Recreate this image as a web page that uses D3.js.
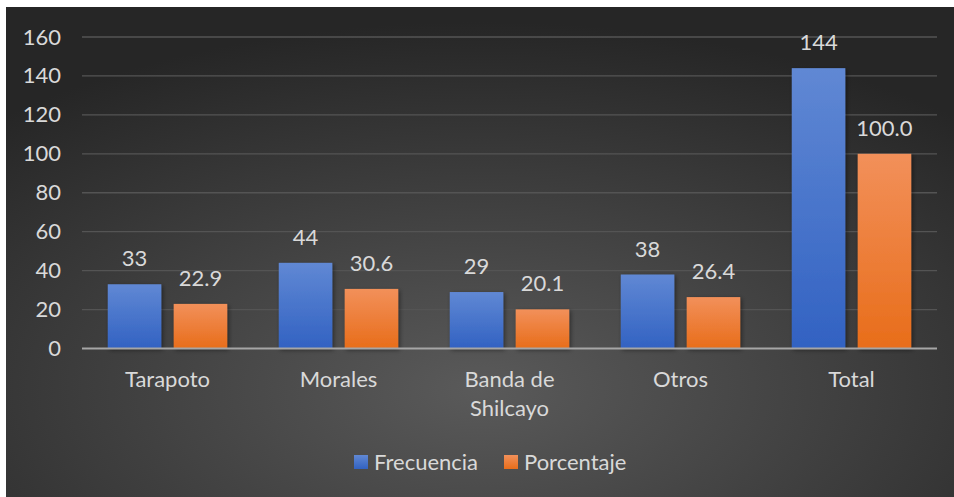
<!DOCTYPE html>
<html>
<head>
<meta charset="utf-8">
<script src="https://cdn.jsdelivr.net/npm/d3@7"></script>
<style>
  html, body { margin: 0; padding: 0; background: #ffffff; }
  svg { display: block; }
  text { font-family: Lato, "Open Sans", "Liberation Sans", sans-serif; fill: #d9d9d9; }
</style>
</head>
<body>
<svg id="chart" width="954" height="497"></svg>
<script>
// Category labels (line breaks marked with "\n")
const categories = ["Tarapoto", "Morales", "Banda de\nShilcayo", "Otros", "Total"];
const seriesNames = ["Frecuencia", "Porcentaje"];
const frecuencia = [33, 44, 29, 38, 144];
const porcentaje = [22.9, 30.6, 20.1, 26.4, 100.0];
const yTicks = [0, 20, 40, 60, 80, 100, 120, 140, 160];

const values = { Frecuencia: frecuencia, Porcentaje: porcentaje };
const labelFormat = { Frecuencia: d3.format("d"), Porcentaje: d3.format(".1f") };

const W = 954, H = 497;
const FS = 22;
const svg = d3.select("#chart");
const defs = svg.append("defs");

// Dark radial background
const bg = defs.append("radialGradient").attr("id", "bgGrad")
  .attr("cx", "50%").attr("cy", "78%").attr("r", "75%")
  .attr("fx", "50%").attr("fy", "78%");
bg.append("stop").attr("offset", "0%").attr("stop-color", "#5a5a5a");
bg.append("stop").attr("offset", "100%").attr("stop-color", "#262626");

// Bar fills: lighter at top, deeper at bottom
const fills = {
  Frecuencia: ["#6088d4", "#3262c2"],
  Porcentaje: ["#f2905a", "#e86d1a"]
};
Object.entries(fills).forEach(([name, [top, bottom]]) => {
  const g = defs.append("linearGradient").attr("id", "fill-" + name)
    .attr("x1", 0).attr("y1", 0).attr("x2", 0).attr("y2", 1);
  g.append("stop").attr("offset", "0%").attr("stop-color", top);
  g.append("stop").attr("offset", "100%").attr("stop-color", bottom);
});

const shadow = defs.append("filter").attr("id", "barShadow")
  .attr("x", "-20%").attr("y", "-20%").attr("width", "140%").attr("height", "140%");
shadow.append("feDropShadow").attr("dx", 1.5).attr("dy", 1.5)
  .attr("stdDeviation", 2).attr("flood-color", "#000").attr("flood-opacity", 0.45);

svg.append("rect").attr("x", 6).attr("y", 7).attr("width", W - 6).attr("height", H - 7)
  .attr("fill", "url(#bgGrad)");

const plot = { left: 82, right: 937, top: 37, bottom: 348.5 };

const x0 = d3.scaleBand().domain(categories).range([plot.left, plot.right])
  .paddingInner(0).paddingOuter(0);
const x1 = d3.scaleBand().domain(seriesNames).range([0, x0.bandwidth()])
  .paddingInner(0.188).paddingOuter(0.391);
const y = d3.scaleLinear().domain([0, 160]).range([plot.bottom, plot.top]);

// Gridlines
svg.append("g").selectAll("line").data(yTicks.filter(d => d > 0)).join("line")
  .attr("x1", plot.left).attr("x2", plot.right)
  .attr("y1", d => y(d)).attr("y2", d => y(d))
  .attr("stroke", "#545454").attr("stroke-width", 1.3);

// Y axis tick labels
const yAxis = d3.axisLeft(y).tickValues(yTicks).tickSize(0).tickPadding(21);
const gy = svg.append("g").attr("transform", `translate(${plot.left},0)`).call(yAxis);
gy.select(".domain").remove();
gy.selectAll("text").attr("font-size", FS).attr("fill", "#d9d9d9")
  .style("font-family", "Lato, 'Open Sans', sans-serif");

// Bars
const groups = svg.append("g").selectAll("g").data(categories).join("g")
  .attr("transform", d => `translate(${x0(d)},0)`);

groups.selectAll("rect")
  .data((c, i) => seriesNames.map(s => ({ s, v: values[s][i] })))
  .join("rect")
  .attr("x", d => x1(d.s))
  .attr("width", x1.bandwidth())
  .attr("y", d => y(d.v))
  .attr("height", d => y(0) - y(d.v))
  .attr("fill", d => `url(#fill-${d.s})`)
  .attr("filter", "url(#barShadow)");

// Value labels
groups.selectAll("text.val")
  .data((c, i) => seriesNames.map(s => ({ s, v: values[s][i] })))
  .join("text").attr("class", "val")
  .attr("x", d => x1(d.s) + x1.bandwidth() / 2)
  .attr("y", d => y(d.v) - 18)
  .attr("text-anchor", "middle")
  .attr("font-size", FS)
  .text(d => labelFormat[d.s](d.v));

// Zero axis line
svg.append("line")
  .attr("x1", plot.left).attr("x2", plot.right)
  .attr("y1", y(0)).attr("y2", y(0))
  .attr("stroke", "#a6a6a6").attr("stroke-width", 2);

// Category labels
const xAxis = d3.axisBottom(x0).tickSize(0).tickFormat("");
svg.append("g").attr("transform", `translate(0,${y(0)})`).call(xAxis)
  .select(".domain").remove();

svg.append("g").selectAll("text").data(categories).join("text")
  .attr("x", d => x0(d) + x0.bandwidth() / 2)
  .attr("y", 387)
  .attr("text-anchor", "middle")
  .attr("font-size", FS)
  .each(function(d) {
    const t = d3.select(this);
    d.split("\n").forEach((line, i) => {
      t.append("tspan").attr("x", x0(d) + x0.bandwidth() / 2)
        .attr("dy", i === 0 ? 0 : 29).text(line);
    });
  });

// Legend
const legendItems = [
  { s: "Frecuencia", x: 354 },
  { s: "Porcentaje", x: 504 }
];
const lg = svg.append("g").selectAll("g").data(legendItems).join("g")
  .attr("transform", d => `translate(${d.x},455)`);
lg.append("rect").attr("width", 14).attr("height", 14)
  .attr("fill", d => `url(#fill-${d.s})`);
lg.append("text").attr("x", 20).attr("y", 15).attr("font-size", FS)
  .text(d => d.s);
</script>
</body>
</html>
